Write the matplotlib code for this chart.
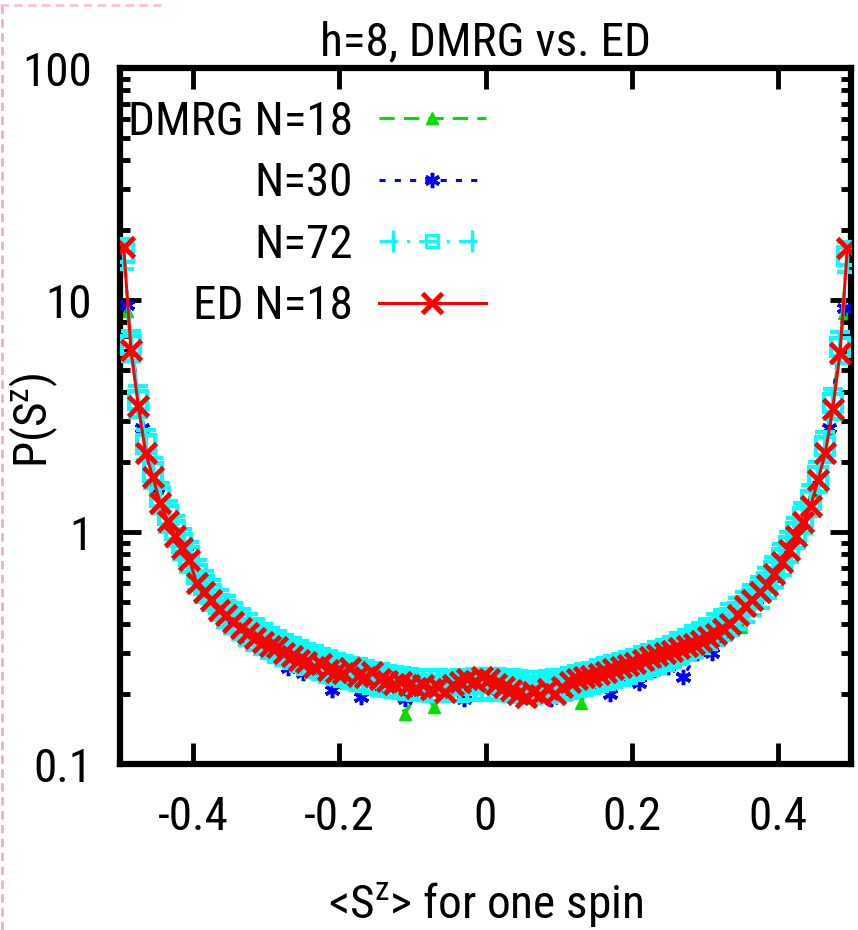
import numpy as np
import matplotlib
matplotlib.use("Agg")
import matplotlib.pyplot as plt
from matplotlib.lines import Line2D
from matplotlib.legend_handler import HandlerLine2D, HandlerTuple

plt.rcParams['font.family'] = ['Roboto Condensed', 'Liberation Sans', 'DejaVu Sans']
plt.rcParams['mathtext.fontset'] = 'custom'
plt.rcParams['mathtext.rm'] = 'Roboto Condensed'

# bin centres of the histograms
bins_fine = [-0.495, -0.485, -0.475, -0.465, -0.455, -0.445, -0.435, -0.425, -0.415, -0.405,
             -0.395, -0.385, -0.375, -0.365, -0.355, -0.345, -0.335, -0.325, -0.315, -0.305,
             -0.295, -0.285, -0.275, -0.265, -0.255, -0.245, -0.235, -0.225, -0.215, -0.205,
             -0.195, -0.185, -0.175, -0.165, -0.155, -0.145, -0.135, -0.125, -0.115, -0.105,
             -0.095, -0.085, -0.075, -0.065, -0.055, -0.045, -0.035, -0.025, -0.015, -0.005,
             0.005, 0.015, 0.025, 0.035, 0.045, 0.055, 0.065, 0.075, 0.085, 0.095,
             0.105, 0.115, 0.125, 0.135, 0.145, 0.155, 0.165, 0.175, 0.185, 0.195,
             0.205, 0.215, 0.225, 0.235, 0.245, 0.255, 0.265, 0.275, 0.285, 0.295,
             0.305, 0.315, 0.325, 0.335, 0.345, 0.355, 0.365, 0.375, 0.385, 0.395,
             0.405, 0.415, 0.425, 0.435, 0.445, 0.455, 0.465, 0.475, 0.485, 0.495]

bins_coarse = [-0.49, -0.47, -0.45, -0.43, -0.41, -0.39, -0.37, -0.35, -0.33, -0.31,
               -0.29, -0.27, -0.25, -0.23, -0.21, -0.19, -0.17, -0.15, -0.13, -0.11,
               -0.09, -0.07, -0.05, -0.03, -0.01, 0.01, 0.03, 0.05, 0.07, 0.09,
               0.11, 0.13, 0.15, 0.17, 0.19, 0.21, 0.23, 0.25, 0.27, 0.29,
               0.31, 0.33, 0.35, 0.37, 0.39, 0.41, 0.43, 0.45, 0.47, 0.49]

ed_n18 = [17.0, 6.1, 3.5, 2.2, 1.72, 1.33, 1.12, 0.96, 0.85, 0.76,
          0.60, 0.55, 0.51, 0.46, 0.44, 0.41, 0.385, 0.368, 0.35, 0.335,
          0.322, 0.318, 0.30, 0.292, 0.28, 0.276, 0.262, 0.27, 0.255, 0.25,
          0.246, 0.26, 0.24, 0.236, 0.25, 0.232, 0.228, 0.222, 0.226, 0.218,
          0.212, 0.22, 0.21, 0.214, 0.205, 0.218, 0.225, 0.232, 0.228, 0.236,
          0.232, 0.222, 0.215, 0.208, 0.20, 0.195, 0.205, 0.198, 0.21, 0.20,
          0.215, 0.225, 0.232, 0.237, 0.24, 0.245, 0.25, 0.258, 0.262, 0.268,
          0.272, 0.28, 0.29, 0.295, 0.30, 0.306, 0.315, 0.322, 0.33, 0.34,
          0.352, 0.365, 0.38, 0.40, 0.44, 0.48, 0.51, 0.55, 0.59, 0.66,
          0.74, 0.84, 0.96, 1.10, 1.30, 1.68, 2.2, 3.4, 5.9, 16.8]

dmrg_n72 = [16.0, 6.4, 3.7, 2.4, 1.82, 1.42, 1.18, 1.02, 0.90, 0.79,
            0.66, 0.59, 0.54, 0.49, 0.46, 0.43, 0.405, 0.385, 0.365, 0.35,
            0.337, 0.325, 0.314, 0.304, 0.295, 0.287, 0.28, 0.273, 0.266, 0.26,
            0.255, 0.25, 0.246, 0.242, 0.238, 0.234, 0.231, 0.228, 0.226, 0.224,
            0.222, 0.221, 0.22, 0.22, 0.219, 0.219, 0.22, 0.222, 0.223, 0.224,
            0.224, 0.223, 0.222, 0.22, 0.218, 0.217, 0.216, 0.217, 0.218, 0.22,
            0.222, 0.226, 0.23, 0.234, 0.238, 0.243, 0.248, 0.253, 0.258, 0.264,
            0.27, 0.277, 0.284, 0.291, 0.299, 0.308, 0.318, 0.329, 0.341, 0.354,
            0.368, 0.384, 0.402, 0.424, 0.45, 0.48, 0.515, 0.555, 0.61, 0.68,
            0.77, 0.87, 1.0, 1.16, 1.38, 1.75, 2.35, 3.6, 6.3, 15.5]
n72_rel_err = 0.15

dmrg_n30 = [9.5, 2.8, 1.55, 1.06, 0.82, 0.60, 0.50, 0.41, 0.35, 0.335,
            0.31, 0.26, 0.246, 0.25, 0.208, 0.235, 0.195, 0.215, 0.222, 0.19,
            0.215, 0.212, 0.218, 0.19, 0.22, 0.215, 0.21, 0.205, 0.212, 0.19,
            0.21, 0.222, 0.228, 0.20, 0.24, 0.224, 0.255, 0.262, 0.237, 0.30,
            0.30, 0.37, 0.44, 0.51, 0.63, 0.82, 1.08, 1.55, 2.8, 9.2]

dmrg_n18 = [9.0, 2.8, 1.55, 1.05, 0.82, 0.58, 0.50, 0.43, 0.37, 0.345,
            0.31, 0.29, 0.265, 0.262, 0.25, 0.24, 0.232, 0.225, 0.222, 0.165,
            0.21, 0.176, 0.22, 0.225, 0.23, 0.225, 0.215, 0.21, 0.205, 0.21,
            0.20, 0.183, 0.24, 0.25, 0.255, 0.265, 0.275, 0.29, 0.355, 0.32,
            0.345, 0.37, 0.39, 0.50, 0.60, 0.80, 1.05, 1.5, 2.7, 8.8]

labels = ['DMRG N=18', 'N=30', 'N=72', 'ED N=18']

fs = 34

fig = plt.figure(figsize=(8.58, 9.3), dpi=100)
ax = fig.add_axes([120 / 858, 1 - 764 / 930, 731 / 858, 696 / 930])

l18, = ax.plot(bins_coarse, dmrg_n18, color='#00e000', ls=(0, (5, 3)), lw=2.2,
               marker='^', ms=8, zorder=2)
l30, = ax.plot(bins_coarse, dmrg_n30, color='#0000ff', ls=(0, (2, 3)), lw=2.2,
               marker=(6, 2, 0), ms=11, mew=2.5, zorder=3)
n72 = np.array(dmrg_n72)
ax.errorbar(bins_fine, n72, yerr=n72 * n72_rel_err, color='#00ffff', ls=(0, (6, 3, 1, 3)),
            lw=3, marker='s', ms=13, mfc='none', mew=3, elinewidth=3, capsize=7,
            capthick=3, zorder=4)
led, = ax.plot(bins_fine, ed_n18, color='#ff0000', ls='-', lw=2.2, marker='x', ms=14, mew=3.5,
               zorder=5)

# legend proxy for the error-bar series: dash-dot line, open square, caps at both ends
n72_line = Line2D([], [], color='#00ffff', ls=(0, (6, 3, 1, 3)), lw=2.2, marker='s', ms=8,
                  mfc='none', mew=2.2)
n72_caps = Line2D([], [], color='#00ffff', ls='none', marker='|', ms=16, mew=2.5)

ax.set_yscale('log')
ax.set_xlim(-0.5, 0.5)
ax.set_ylim(0.1, 100)
ax.set_xticks([-0.4, -0.2, 0, 0.2, 0.4])
ax.set_xticklabels(['-0.4', '-0.2', '0', '0.2', '0.4'])
ax.set_yticks([0.1, 1, 10, 100])
ax.set_yticklabels(['0.1', '1', '10', '100'])

for s in ax.spines.values():
    s.set_linewidth(4.5)
ax.tick_params(which='both', direction='in', top=True, right=True, labelsize=fs, color='black')
ax.tick_params(which='major', length=15, width=3.5)
ax.tick_params(which='minor', length=7, width=3.5)
ax.tick_params(axis='x', pad=22)
ax.tick_params(axis='y', pad=20)

ax.set_title('h=8, DMRG vs. ED', fontsize=fs, pad=9)
ax.set_ylabel('P(S$^\\mathregular{z}$)', fontsize=fs, va='center')
ax.yaxis.set_label_coords(-0.118, 0.494)
ax.set_xlabel('<S$^\\mathregular{z}$> for one spin', fontsize=fs, va='baseline')
ax.xaxis.set_label_coords(0.5, -0.221)

leg = ax.legend([l18, l30, (n72_line, n72_caps), led], labels,
                handler_map={n72_caps: HandlerLine2D(numpoints=2),
                             tuple: HandlerTuple(ndivide=1)},
                loc='upper right', bbox_to_anchor=(486 / 858, 1 - 100 / 930),
                bbox_transform=fig.transFigure, frameon=False, fontsize=fs,
                markerfirst=False, handlelength=2.27, handletextpad=0.55,
                labelspacing=0.37, borderpad=0, borderaxespad=0, numpoints=1)

# faint dashed border at the left/top edge of the screenshot
fig.add_artist(Line2D([2 / 858, 2 / 858], [0, 1], transform=fig.transFigure,
                      color='#eeb0cc', lw=2, ls=(0, (3, 2))))
fig.add_artist(Line2D([0, 165 / 858], [1 - 5 / 930, 1 - 5 / 930], transform=fig.transFigure,
                      color='#f4c4d8', lw=2, ls=(0, (3, 2))))

fig.savefig('out.png', dpi=100)
